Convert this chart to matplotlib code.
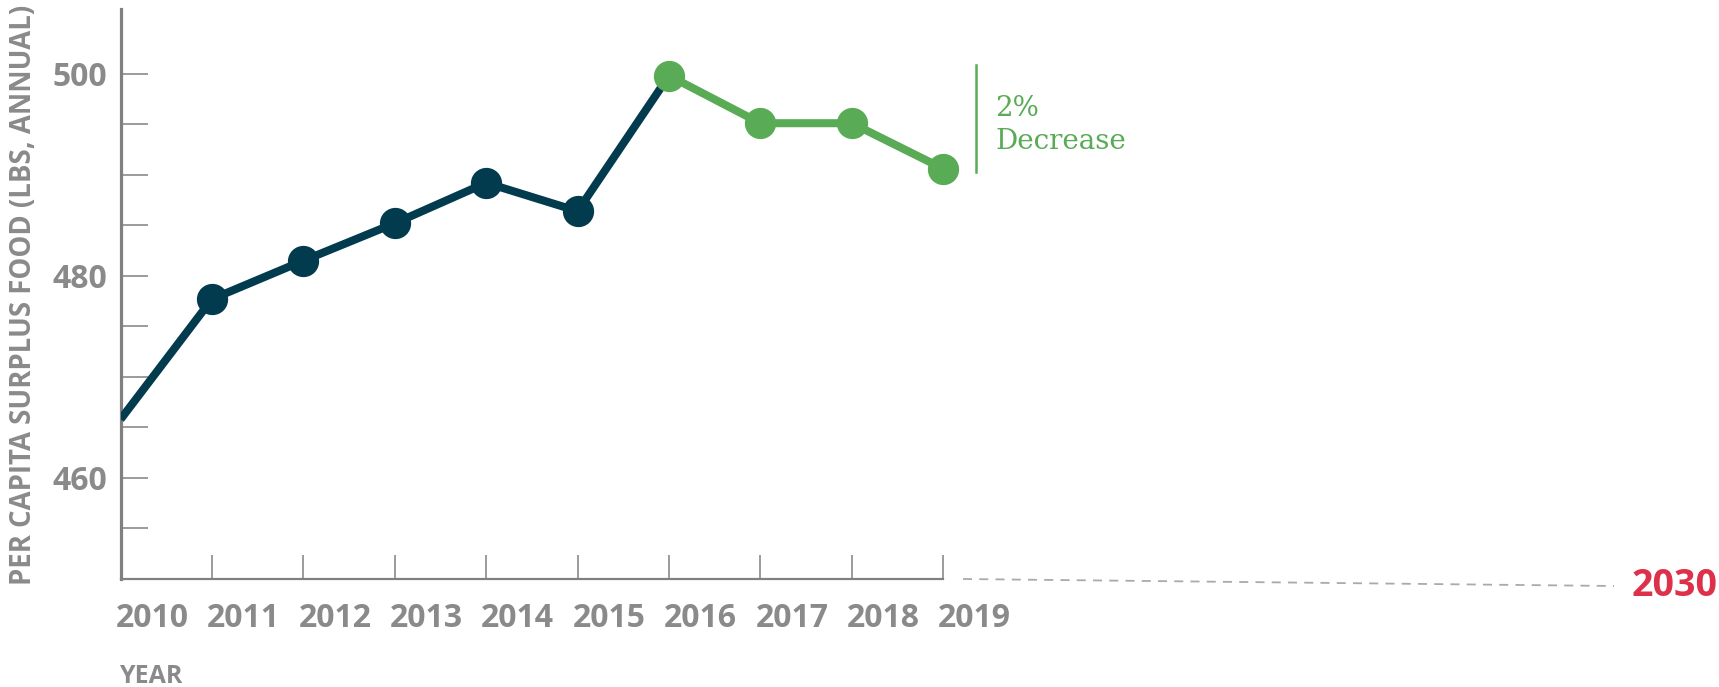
import matplotlib
matplotlib.use("Agg")
import matplotlib.pyplot as plt
from matplotlib.transforms import blended_transform_factory

# data
years = [2010, 2011, 2012, 2013, 2014, 2015, 2016, 2017, 2018, 2019]
surplus = [465.8, 477.7, 481.5, 485.2, 489.2, 486.4, 499.8, 495.1, 495.1, 490.6]
split_year = 2016
y_major = [460, 480, 500]
y_minor = list(range(450, 505, 5))
ylabel = "PER CAPITA SURPLUS FOOD (LBS, ANNUAL)"
xlabel = "YEAR"
note = ["2%", "Decrease"]
target_label = "2030"

W, H = 1719, 687
NAVY = "#023a4e"
GREEN = "#5aab56"
GREY = "#8a8a8a"
AXGREY = "#808080"
RED = "#dc3149"
SANS = ["Open Sans", "DejaVu Sans"]


def fx(x):
    return x / W


def fy(y):
    return 1 - y / H


fig = plt.figure(figsize=(W / 100, H / 100), dpi=100)
ax = fig.add_axes([fx(120.6), fy(579), fx(943.2) - fx(120.6), fy(9) - fy(579)])

i = years.index(split_year)
ax.plot(years[:i + 1], surplus[:i + 1], color=NAVY, lw=5.8, solid_capstyle="butt", zorder=3)
ax.plot(years[1:i], surplus[1:i], "o", color=NAVY, ms=21.5, zorder=4)
ax.plot(years[i:], surplus[i:], "o-", color=GREEN, lw=5.8, ms=21.5, zorder=5, clip_on=False)

ax.set_xlim(years[0], years[-1])
ax.set_ylim(450, 506.4)

for s in ["top", "right"]:
    ax.spines[s].set_visible(False)
ax.spines["left"].set_color(AXGREY)
ax.spines["left"].set_linewidth(2.3)
ax.spines["bottom"].set_color(AXGREY)
ax.spines["bottom"].set_linewidth(1.6)

ax.set_yticks(y_minor)
ax.set_yticklabels([str(v) if v in y_major else "" for v in y_minor])
ax.tick_params(axis="y", direction="in", length=19.5, width=1.1, color=AXGREY,
               pad=9.8, labelsize=23, labelcolor=GREY)
for lab in ax.get_yticklabels():
    lab.set_fontfamily(SANS)
    lab.set_fontweight("bold")

ax.set_xticks(years[1:])
ax.set_xticklabels([])
ax.tick_params(axis="x", direction="in", length=17.5, width=1.1, color=AXGREY)

# year labels sit a little to the right of their ticks
tr = blended_transform_factory(ax.transData, fig.transFigure)
for yr in years:
    ax.text(yr + 0.345, fy(627), str(yr), transform=tr, ha="center", va="baseline",
            fontsize=23, fontweight="bold", color=GREY, family=SANS, clip_on=False)

fig.text(fx(119), fy(683), xlabel, ha="left", va="baseline", fontsize=18,
         fontweight="bold", color=GREY, family=SANS)
fig.text(fx(24), fy(295), ylabel, rotation=90, ha="center", va="center",
         fontsize=19.8, fontweight="bold", color=GREY, family=SANS)

# annotation of the drop since 2016
fig.add_artist(plt.Line2D([fx(976), fx(976)], [fy(65), fy(172)], color=GREEN, lw=1.8))
fig.text(fx(995), fy(116), note[0], ha="left", va="baseline", fontsize=20,
         color=GREEN, family=["DejaVu Serif"])
fig.text(fx(995), fy(149), note[1], ha="left", va="baseline", fontsize=20,
         color=GREEN, family=["DejaVu Serif"])

# dashed run out to the 2030 target
fig.add_artist(plt.Line2D([fx(963), fx(1614)], [fy(579), fy(586)], color="#a3abb3",
                          lw=1.3, ls=(0, (5, 4))))
fig.text(fx(1632), fy(596), target_label, ha="left", va="baseline", fontsize=27,
         fontweight="bold", color=RED, family=SANS)

fig.savefig("out.png", dpi=100)
